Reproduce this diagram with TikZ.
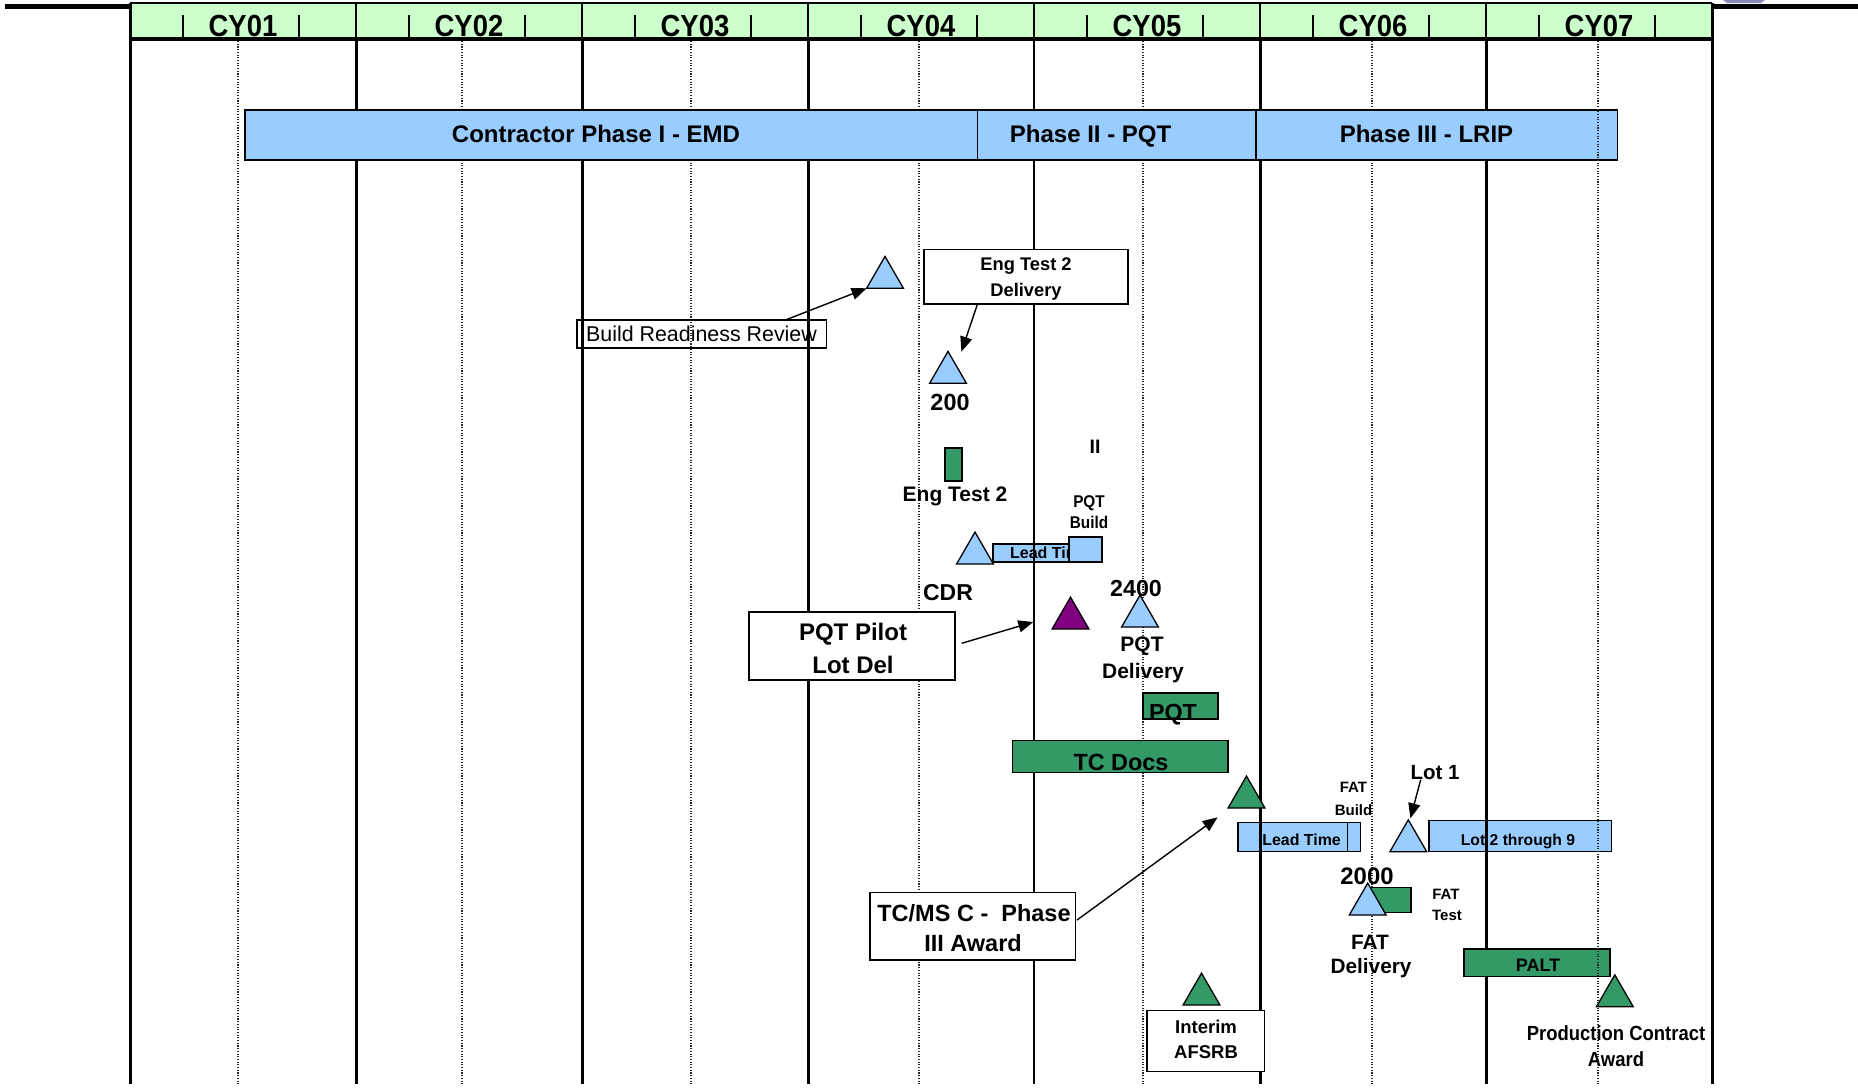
\documentclass[tikz,border=0pt]{standalone}
\usepackage{fontspec}
\setmainfont{Liberation Sans}
\newfontfamily\condf{Liberation Sans}[FakeStretch=0.9]
\usetikzlibrary{arrows.meta,shapes.geometric}
\definecolor{lblue}{HTML}{99CCFF}
\definecolor{dgreen}{HTML}{339966}
\definecolor{hgreen}{HTML}{CCFFCC}
\definecolor{purp}{HTML}{800080}
\definecolor{logoc}{HTML}{8A8AB8}
\newcommand{\fsz}[1]{\fontsize{#1}{#1}\selectfont}
% \rbox{name}{style}{x1}{y1}{x2}{y2}
\newcommand{\rbox}[6]{\node[#2, minimum width={#5-#3}, minimum height={#6-#4}] (#1) at ({(#3+#5)/2},{(#4+#6)/2}) {};}
\begin{document}
\begin{tikzpicture}[x=1pt,y=-1pt,
  every node/.style={inner sep=0pt, outer sep=0pt},
  bx/.style={draw, line width=1.4pt},
  bluebox/.style={bx, fill=lblue},
  greenbox/.style={bx, fill=dgreen},
  whitebox/.style={bx, fill=white},
  tri/.style={regular polygon, regular polygon sides=3, minimum size=42.5pt, draw, line width=1.3pt, anchor=side 2},
  lb/.style={anchor=base, font=\bfseries\fsz{#1}},
  lc/.style={anchor=base, font=\condf\bfseries\fsz{#1}},
  lr/.style={anchor=base, font=\fsz{#1}},
  arr/.style={line width=1.4pt, -{Triangle[length=15pt,width=12pt]}},
  gline/.style={line width=3pt},
  dline/.style={line width=1.1pt, dash pattern=on 1.1pt off 1.6pt, black!85},
  hsep/.style={line width=1.6pt},
  tickmark/.style={line width=1.2pt}]
\useasboundingbox (0,0) rectangle (1858,1087);

% ---------- header ----------
\fill[hgreen] (130,3) rectangle (1712,39);
\draw[line width=1.5pt] (130,3) -- (1712,3);
\fill (5,4) rectangle (130,8.5);
\fill (1712,4) rectangle (1858,9);
\fill[logoc] (1723,0) -- (1765,0) -- (1761,3) -- (1727,3) -- cycle;
\foreach \x in {356,582,808,1034,1260,1486} \draw[hsep] (\x,3) -- (\x,39);
\foreach \s in {130,356,582,808,1034,1260,1486} {
  \draw[tickmark] (\s+53,15) -- (\s+53,38);
  \draw[tickmark] (\s+169,15) -- (\s+169,38);
}
\foreach \i/\x in {1/243,2/469,3/695,4/921,5/1147,6/1373,7/1599}
  \node[lc=30.5] (cy\i) at (\x,36.7) {CY0\i};
\draw[line width=3.5pt] (128.5,39) -- (1713.5,39);

% ---------- bars that the grid crosses ----------
\rbox{lt1}{bluebox}{993}{544}{1102}{562}
\node[lb=16] (lt1t) at (1049.5,558.3) {Lead Time};
\rbox{lt2}{bluebox}{1238}{822.7}{1347.4}{851.7}
\rbox{lt2b}{bluebox}{1347.4}{822.7}{1360.6}{851.7}
\node[lb=15.9] (lt2t) at (1301.6,845.5) {Lead Time};
\rbox{lot29}{bluebox}{1429}{820.7}{1611.4}{851.7}
\node[lb=15.7] (lot29t) at (1518,845.5) {Lot 2 through 9};

% ---------- grid ----------
\foreach \x in {130,1712} \draw[gline] (\x,3) -- (\x,1084);
\foreach \x in {356,582,808,1260,1486} \draw[gline] (\x,39) -- (\x,1084);
\draw[line width=2.2pt] (1034,39) -- (1034,1084);
\foreach \x in {238,462,691,919,1143,1372} \draw[dline] (\x,41) -- (\x,1084);

% ---------- phase bar ----------
\rbox{ph1}{bluebox}{245}{110}{977.5}{160}
\rbox{ph2}{bluebox}{977.5}{110}{1256}{160}
\rbox{ph3}{bluebox}{1256}{110}{1617.5}{160}
\node[lb=24] (ph1t) at (596,142.7) {Contractor Phase I - EMD};
\node[lb=24] (ph2t) at (1090.6,142.7) {Phase II - PQT};
\node[lb=24] (ph3t) at (1426.5,142.7) {Phase III - LRIP};

% ---------- engineering test ----------
\rbox{brr}{bx}{576.8}{320}{826.3}{348}
\node[lr=21.4] (brrt) at (701.5,341.7) {Build Readiness Review};
\node[tri, fill=lblue] (et1) at (885,288.3) {};
\draw[arr] (785.4,0 |- brr.north) -- (et1.corner 2);

\rbox{etd}{whitebox}{924}{249.3}{1128}{304}
\node[lb=18.3] (etd1) at (1026,270.7) {Eng Test 2};
\node[lb=18.3] (etd2) at (1026,296) {Delivery};
\node[tri, fill=lblue] (t200) at (948,383.3) {};
\coordinate (etdtip) at (961.4,351.7);
\draw[arr] (977.5,0 |- etd.south) -- (etdtip);
\node[lb=23.4] (n200) at (950,410) {200};

\rbox{etg}{greenbox}{945}{448}{962}{481}
\node[lb=21] (etgt) at (955,501.7) {Eng Test 2};
\node[lb=19.5] (nII) at (1095,453.3) {II};
\node[lc=17] (pqtb1) at (1089,507.3) {PQT};
\node[lc=17] (pqtb2) at (1089,528.3) {Build};
\rbox{pqtb}{bluebox}{1069}{537}{1102}{562}
\node[tri, fill=lblue] (tcdr) at (975,564) {};
\node[lb=23] (cdr) at (948,600) {CDR};

% ---------- PQT ----------
\rbox{pilot}{whitebox}{749}{612}{955}{680}
\node[lb=24] (pilot1) at (853,640.5) {PQT Pilot};
\node[lb=24] (pilot2) at (853,673.3) {Lot Del};
\coordinate (pilottip) at (1033.3,622);
\draw[arr] ([xshift=6.7pt,yshift=2.7pt]pilot.east) -- (pilottip);
\node[tri, fill=purp] (tpurp) at (1070.5,629) {};
\node[lb=23.2] (n2400) at (1136,596) {2400};
\node[tri, fill=lblue] (t2400) at (1140,627) {};
\node[lb=21] (pqtd1) at (1142,651) {PQT};
\node[lb=21] (pqtd2) at (1143,678.3) {Delivery};
\rbox{pqtg}{greenbox}{1143}{693}{1218}{719}
\node[lb=23.3] (pqtgt) at (1173,720) {PQT};

% ---------- TC docs / Phase III ----------
\rbox{tcd}{greenbox}{1012.4}{740.7}{1228}{772.3}
\node[lb=23.4] (tcdt) at (1121,770) {TC Docs};
\node[tri, fill=dgreen] (ttc) at (1246.5,808) {};
\node[lb=15] (fatb1) at (1353.5,792.7) {FAT};
\node[lb=15] (fatb2) at (1353.5,815) {Build};
\node[lb=20.5] (lot1) at (1435,779) {Lot 1};
\coordinate (lot1tip) at (1410.4,818.3);
\draw[arr] ([xshift=-14.3pt,yshift=-0.5pt]lot1.south) -- (lot1tip);
\node[tri, fill=lblue] (tlot1) at (1408.3,851.7) {};
\node[lb=23.9] (n2000) at (1367,884) {2000};
\rbox{fatt}{greenbox}{1369}{887.7}{1411}{912.7}
\node[tri, fill=lblue] (tfat) at (1367.7,915) {};
\node[lb=15] (fatt1) at (1446,899) {FAT};
\node[lb=15] (fatt2) at (1447,920) {Test};
\node[lb=20.8] (fatd1) at (1370,949.5) {FAT};
\node[lb=20.8] (fatd2) at (1371,973) {Delivery};

\rbox{tcms}{whitebox}{870}{892.7}{1075.6}{960}
\node[lb=23.5] (tcms1) at (974,921.7) {TC/MS C -\ \ Phase};
\node[lb=23.5] (tcms2) at (973,951.7) {III Award};
\coordinate (tctip) at (1217.6,817.3);
\draw[arr] ([xshift=1.4pt,yshift=6.3pt]tcms.east) -- (tctip);

\rbox{palt}{greenbox}{1464}{949}{1610}{976.7}
\node[lb=18] (paltt) at (1538,971.5) {PALT};
\node[tri, fill=dgreen] (tprod) at (1614.8,1006.7) {};
\node[lc=20.5] (prod1) at (1616,1040) {Production Contract};
\node[lc=20.5] (prod2) at (1616,1066) {Award};

\node[tri, fill=dgreen] (tint) at (1201.5,1005) {};
\rbox{afsrb}{whitebox}{1147}{1010.7}{1264.5}{1071.7}
\node[lb=18.5] (afsrb1) at (1206,1033) {Interim};
\node[lb=18.5] (afsrb2) at (1206,1058) {AFSRB};

% ---------- dotted line drawn on top ----------
\draw[dline] (1598,41) -- (1598,1084);
\end{tikzpicture}
\end{document}
